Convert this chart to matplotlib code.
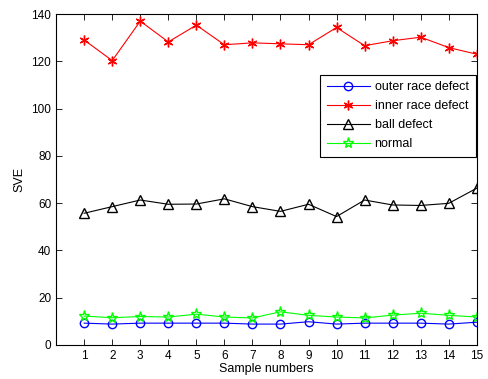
import numpy as np
import matplotlib
matplotlib.use("Agg")
import matplotlib.pyplot as plt

plt.rcParams['font.family'] = ['Liberation Sans', 'DejaVu Sans']

# sample numbers
samples = np.arange(1, 16)

# SVE values
outer = [9.2, 8.8, 9.2, 9.2, 9.2, 9.2, 8.8, 8.8, 9.8, 8.8, 9.2, 9.2, 9.2, 8.8, 9.6]
inner = [129, 120.3, 137, 128.2, 135.3, 127, 127.8, 127.4, 127, 134.3, 126.6, 128.7, 130.2, 125.8, 123]
ball = [55.7, 58.5, 61.3, 59.5, 59.6, 61.8, 58.5, 56.5, 59.5, 54.3, 61.3, 59.2, 59.0, 59.9, 66.3]
normal = [12.2, 11.5, 12.0, 11.8, 13.0, 11.8, 11.4, 14.0, 12.5, 11.8, 11.4, 12.6, 13.4, 12.5, 11.8]

fig = plt.figure(figsize=(4.88, 3.79), dpi=100)
ax = fig.add_axes([0.115, 0.09, 0.862, 0.873])

ax.plot(samples, outer, color='blue', marker='o', mfc='none', ms=6, lw=0.8, label='outer race defect')
ax.plot(samples, inner, color='red', marker=(6, 2, 0), ms=7, mew=1.0, lw=0.8, label='inner race defect')
ax.plot(samples, ball, color='black', marker='^', mfc='none', ms=6.5, lw=0.8, label='ball defect')
ax.plot(samples, normal, color='#00ff00', marker='*', mfc='none', ms=8, lw=0.8, label='normal')

ax.set_xlim(0, 15)
ax.set_ylim(0, 140)
ax.set_xticks(samples)
ax.set_yticks(np.arange(0, 141, 20))
ax.tick_params(direction='in', top=True, right=True, labelsize=8.5, length=4, width=0.6)
for s in ax.spines.values():
    s.set_linewidth(0.8)

ax.set_xlabel('Sample numbers', fontsize=9, labelpad=1)
ax.set_ylabel('SVE', fontsize=9, labelpad=4)

leg = ax.legend(loc='upper right', bbox_to_anchor=(0.997, 0.817), borderaxespad=0,
                fontsize=9, fancybox=False, edgecolor='black', framealpha=1,
                handlelength=3.4, handletextpad=0.4, borderpad=0.55, labelspacing=0.55)
leg.get_frame().set_linewidth(0.8)

fig.savefig('out.png', dpi=100)
